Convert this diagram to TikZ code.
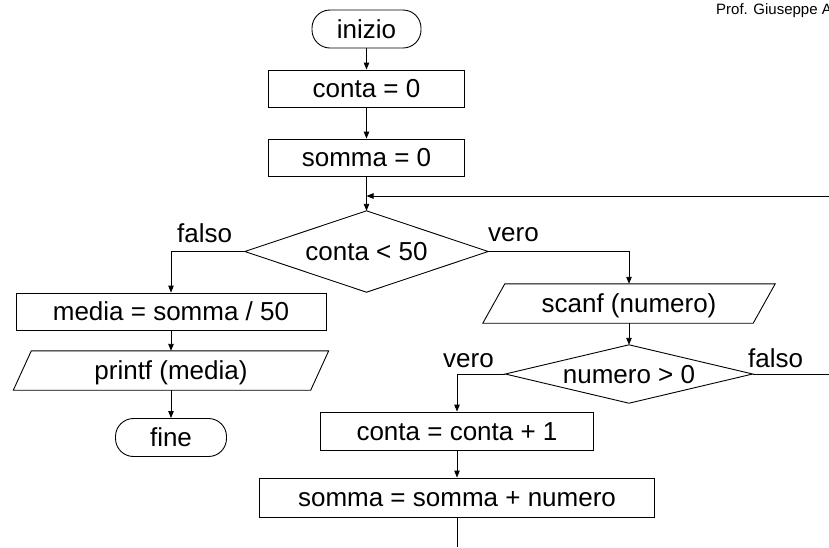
\documentclass[tikz,border=0pt]{standalone}
\usepackage{fontspec}
\setmainfont{Liberation Sans}
\usetikzlibrary{arrows.meta}
\begin{document}
\begin{tikzpicture}[x=1pt,y=-1pt,
  every node/.style={font=\fontsize{26}{30}\selectfont},
  line/.style={line width=0.9pt},
  arr/.style={line, -{Triangle[length=7pt,width=5.5pt]}},
  procbox/.style 2 args={draw, line, minimum width=#1, minimum height=#2, inner sep=0pt, text height=18.6pt, text depth=0pt},
  termbox/.style 2 args={procbox={#1}{#2}, rounded corners=18pt},
  plainbox/.style 2 args={minimum width=#1, minimum height=#2, inner sep=0pt, text height=18.6pt, text depth=0pt},
  lbl/.style={inner sep=0pt, anchor=base west}]
\clip (0,0) rectangle (829,547);
\fill[white] (0,0) rectangle (829,547);
% header
\node[inner sep=0pt, anchor=base west, font=\fontsize{15}{18}\selectfont] (prof) at (716,14) {Prof. Giuseppe A};
% main column
\node[termbox={109pt}{38pt}] (inizio) at (366.5,29) {inizio};
\node[procbox={196pt}{37pt}] (c0) at (366.5,88.5) {conta = 0};
\node[procbox={196pt}{37pt}] (s0) at (366.5,157.5) {somma = 0};
\coordinate (merge) at (366.5,196);
\coordinate (loopin) at (829,196);
\node[plainbox={243pt}{81pt}] (d1) at (366.5,251.5) {conta < 50};
\draw[line] (d1.west) -- (d1.north) -- (d1.east) -- (d1.south) -- cycle;
% left branch
\node[procbox={310pt}{37pt}] (media) at (171,311.5) {media = somma / 50};
\node[plainbox={297pt}{39pt}] (printf) at (171,370.5) {printf (media)};
\draw[line] ([xshift=9pt]printf.north west) -- ([xshift=9pt]printf.north east) -- ([xshift=-9pt]printf.south east) -- ([xshift=-9pt]printf.south west) -- cycle;
\node[termbox={111pt}{38pt}] (fine) at (171,437.5) {fine};
% right branch
\node[plainbox={270pt}{39pt}] (scanf) at (629,303.5) {scanf (numero)};
\draw[line] ([xshift=11pt]scanf.north west) -- ([xshift=11pt]scanf.north east) -- ([xshift=-11pt]scanf.south east) -- ([xshift=-11pt]scanf.south west) -- cycle;
\node[plainbox={247pt}{58pt}] (d2) at (629,374) {numero > 0};
\draw[line] (d2.west) -- (d2.north) -- (d2.east) -- (d2.south) -- cycle;
\node[procbox={273pt}{38pt}] (c1) at (457,431) {conta = conta + 1};
\node[procbox={395pt}{39pt}] (s1) at (457,497.5) {somma = somma + numero};
\coordinate (falsoend) at (829,374);
\coordinate (bottomend) at (457,547);
% labels
\node[lbl] (lf1) at (177,242) {falso};
\node[lbl] (lv1) at (488,241) {vero};
\node[lbl] (lv2) at (443,367) {vero};
\node[lbl] (lf2) at (748,367) {falso};
% connectors
\draw[arr] (inizio) -- (c0);
\draw[arr] (c0) -- (s0);
\draw[arr] (s0) -- (d1.north);
\draw[arr] (loopin) -- (merge);
\draw[arr] (d1.west) -| (media.north);
\draw[arr] (d1.east) -| (scanf.north);
\draw[arr] (media) -- (printf.north);
\draw[arr] (printf.south) -- (fine);
\draw[arr] (scanf.south) -- (d2.north);
\draw[arr] (d2.west) -| (c1.north);
\draw[line] (d2.east) -- (falsoend);
\draw[arr] (c1) -- (s1);
\draw[line] (s1.south) -- (bottomend);
\end{tikzpicture}
\end{document}
